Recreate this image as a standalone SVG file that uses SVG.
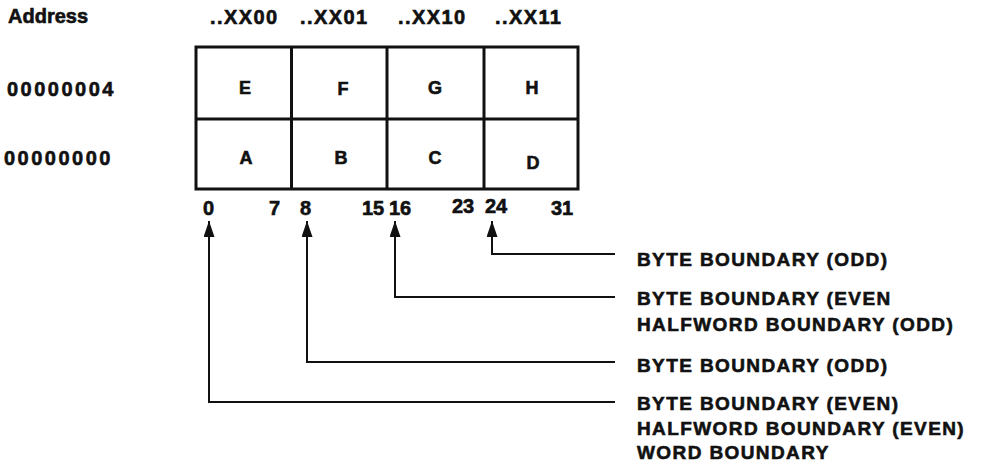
<svg xmlns="http://www.w3.org/2000/svg" width="981" height="466" viewBox="0 0 981 466">
<style>
text{font-family:"Liberation Sans",Arial,sans-serif;font-weight:bold;fill:#111;stroke:#111;stroke-width:0.6}
.hd{font-size:20px;letter-spacing:1.4px}
.addr{font-size:20px;letter-spacing:2.5px}
.cell{font-size:18px;text-anchor:middle}
.bit{font-size:20px}
.lbl{font-size:19px;letter-spacing:1.4px}
.box{fill:none;stroke:#111;stroke-width:3}
.conn{fill:none;stroke:#111;stroke-width:2}
</style>
<defs>
<marker id="ah" markerUnits="userSpaceOnUse" viewBox="0 0 16 11" refX="16" refY="5.5" markerWidth="16" markerHeight="11" orient="auto">
<path d="M0,0 L16,5.5 L0,11 z" fill="#111"/>
</marker>
</defs>
<rect width="981" height="466" fill="#fff"/>
<g id="headers">
<text x="8" y="23" style="font-size:20px">Address</text>
<text class="hd" x="210" y="24">..XX00</text>
<text class="hd" x="300" y="24">..XX01</text>
<text class="hd" x="398" y="24">..XX10</text>
<text class="hd" x="495" y="24">..XX11</text>
<text class="addr" x="7" y="96">00000004</text>
<text class="addr" x="4" y="165">00000000</text>
</g>
<g id="grid">
<rect class="box" x="196" y="47" width="382" height="142"/>
<line class="box" x1="196" y1="119" x2="578" y2="119"/>
<line class="box" x1="291.5" y1="47" x2="291.5" y2="189"/>
<line class="box" x1="387" y1="47" x2="387" y2="189"/>
<line class="box" x1="484" y1="47" x2="484" y2="189"/>
</g>
<g id="cells">
<text class="cell" x="245" y="94">E</text>
<text class="cell" x="343" y="95">F</text>
<text class="cell" x="435" y="94">G</text>
<text class="cell" x="532" y="94">H</text>
<text class="cell" x="246" y="164">A</text>
<text class="cell" x="341" y="164">B</text>
<text class="cell" x="435" y="164">C</text>
<text class="cell" x="533" y="169">D</text>
</g>
<g id="bits">
<text class="bit" x="203" y="215">0</text>
<text class="bit" x="269" y="215">7</text>
<text class="bit" x="300" y="215">8</text>
<text class="bit" x="362" y="215">15</text>
<text class="bit" x="389" y="215">16</text>
<text class="bit" x="452" y="213">23</text>
<text class="bit" x="485" y="213">24</text>
<text class="bit" x="551" y="215">31</text>
</g>
<g id="connectors">
<path class="conn" marker-end="url(#ah)" d="M615,254 H492 V221"/>
<path class="conn" marker-end="url(#ah)" d="M615,297 H395 V221"/>
<path class="conn" marker-end="url(#ah)" d="M615,362 H307 V221"/>
<path class="conn" marker-end="url(#ah)" d="M615,402 H209 V221"/>
</g>
<g id="labels">
<text class="lbl" x="637" y="266">BYTE BOUNDARY (ODD)</text>
<text class="lbl" x="637" y="305">BYTE BOUNDARY (EVEN</text>
<text class="lbl" x="637" y="331">HALFWORD BOUNDARY (ODD)</text>
<text class="lbl" x="637" y="372">BYTE BOUNDARY (ODD)</text>
<text class="lbl" x="637" y="410">BYTE BOUNDARY (EVEN)</text>
<text class="lbl" x="637" y="435">HALFWORD BOUNDARY (EVEN)</text>
<text class="lbl" x="637" y="459">WORD BOUNDARY</text>
</g>
</svg>
